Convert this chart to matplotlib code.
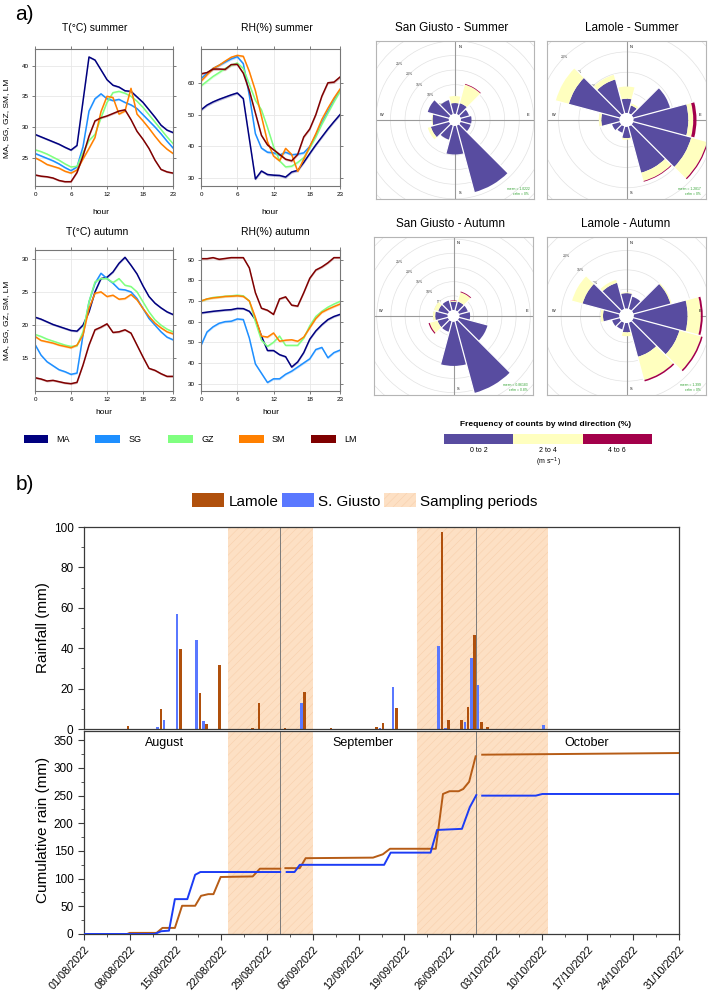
import numpy as np
import pandas as pd
import matplotlib
matplotlib.use('Agg')
import matplotlib.pyplot as plt
from matplotlib.patches import Rectangle, Wedge, Circle, Patch

plt.rcParams['font.family'] = ['Liberation Sans', 'DejaVu Sans']
plt.rcParams['hatch.linewidth'] = 0.4

W, H = 708, 991

# ---------------- a) diurnal cycles ----------------
hours = np.arange(24)
sites = ['MA', 'SG', 'GZ', 'SM', 'LM']
site_colors = ['#00007f', '#1e8fff', '#80ff80', '#ff8000', '#7f0000']

t_summer = {
    'MA': [28.8, 28.4, 28.0, 27.6, 27.2, 26.7, 26.25, 27.0, 34.2, 41.4, 40.9, 39.3, 37.7, 36.8, 36.5, 35.9, 35.8, 34.9, 34.0, 32.8, 31.6, 30.3, 29.5, 29.1],
    'SG': [25.7, 25.3, 24.9, 24.5, 24.0, 23.4, 22.9, 23.5, 26.8, 32.6, 34.6, 35.4, 34.6, 34.3, 34.5, 34.0, 33.6, 33.0, 32.0, 31.0, 30.0, 28.9, 27.7, 26.6],
    'GZ': [26.3, 26.0, 25.6, 25.1, 24.6, 24.0, 23.5, 23.6, 25.8, 27.8, 28.8, 31.5, 34.0, 35.6, 35.8, 35.5, 35.0, 34.2, 33.2, 32.0, 30.8, 29.6, 28.4, 27.3],
    'SM': [25.0, 24.5, 23.9, 23.6, 23.3, 22.8, 22.5, 23.0, 24.8, 26.5, 28.3, 32.5, 35.0, 34.8, 32.1, 32.6, 36.3, 32.1, 31.0, 29.8, 28.5, 27.3, 26.4, 25.7],
    'LM': [22.2, 22.0, 21.9, 21.7, 21.3, 21.1, 21.1, 22.6, 25.3, 28.5, 31.0, 31.5, 31.8, 32.2, 32.6, 32.8, 31.2, 29.3, 28.0, 26.5, 24.6, 23.1, 22.7, 22.5],
}
rh_summer = {
    'MA': [51.5, 53.0, 54.0, 54.8, 55.5, 56.2, 56.8, 55.0, 42.4, 29.8, 32.3, 31.2, 31.0, 30.9, 30.4, 32.0, 32.5, 35.0, 37.8, 40.5, 43.0, 45.5, 47.8, 50.0],
    'SG': [61.3, 63.0, 64.5, 65.5, 66.5, 67.5, 68.2, 66.0, 56.0, 44.0, 39.5, 38.2, 38.0, 37.3, 38.2, 37.4, 37.6, 38.0, 40.0, 43.5, 47.5, 51.0, 54.5, 57.5],
    'GZ': [59.0, 60.5, 62.0, 63.2, 64.5, 65.5, 66.2, 64.5, 59.5, 54.5, 51.5, 46.0, 40.0, 35.5, 33.6, 33.8, 35.0, 36.5, 39.5, 43.0, 47.0, 50.5, 54.0, 57.3],
    'SM': [60.5, 62.5, 64.5, 65.5, 66.8, 68.0, 68.6, 68.3, 63.5, 57.5, 49.5, 41.5, 37.0, 35.5, 39.4, 37.5, 32.2, 36.0, 40.0, 44.0, 48.5, 52.0, 55.2, 58.0],
    'LM': [62.8, 63.2, 64.3, 64.3, 64.2, 65.7, 65.8, 63.0, 57.5, 50.5, 43.5, 40.5, 39.0, 37.5, 36.0, 35.5, 37.5, 43.0, 45.5, 50.0, 55.8, 60.0, 60.2, 61.8],
}
t_autumn = {
    'MA': [21.2, 20.9, 20.5, 20.1, 19.8, 19.5, 19.2, 19.1, 20.0, 22.0, 25.0, 27.0, 27.2, 28.0, 29.3, 30.2, 29.0, 27.7, 25.9, 24.3, 23.3, 22.6, 22.0, 21.6],
    'SG': [17.1, 15.5, 14.5, 13.9, 13.3, 13.0, 12.6, 12.8, 18.5, 23.5, 26.3, 27.8, 27.0, 26.3, 25.4, 25.3, 25.0, 24.0, 22.5, 21.0, 20.0, 19.0, 18.2, 17.8],
    'GZ': [18.6, 18.3, 17.9, 17.6, 17.3, 17.0, 16.8, 16.9, 19.0, 23.5, 26.5, 27.0, 27.0, 26.4, 27.0, 26.0, 25.8, 25.0, 23.5, 22.0, 20.8, 20.0, 19.4, 19.0],
    'SM': [18.3, 17.7, 17.5, 17.3, 17.0, 16.8, 16.6, 17.0, 18.5, 22.5, 24.8, 25.0, 24.3, 24.5, 23.9, 24.0, 24.6, 23.8, 22.5, 21.3, 20.3, 19.6, 19.0, 18.7],
    'LM': [12.1, 11.9, 11.6, 11.7, 11.5, 11.3, 11.2, 11.4, 14.0, 17.0, 19.3, 19.7, 20.2, 18.9, 19.0, 19.3, 18.8, 17.0, 15.2, 13.5, 13.2, 12.7, 12.3, 12.3],
}
rh_autumn = {
    'MA': [64.2, 64.6, 65.0, 65.3, 65.6, 65.8, 66.4, 66.3, 65.0, 61.0, 53.0, 46.0, 46.0, 44.0, 43.0, 38.0, 40.5, 45.0, 51.5, 55.5, 58.5, 61.0, 62.5, 63.5],
    'SG': [48.5, 55.0, 57.5, 59.2, 60.0, 60.2, 61.3, 61.0, 52.0, 39.5, 35.0, 30.5, 32.3, 32.3, 34.5, 36.0, 38.0, 40.0, 42.0, 46.5, 47.5, 42.5, 45.0, 46.2],
    'GZ': [70.0, 71.0, 71.7, 72.0, 72.3, 72.5, 72.8, 72.5, 70.0, 60.0, 51.0, 48.0, 50.0, 53.0, 48.5, 48.5, 48.5, 52.0, 58.0, 62.5, 65.0, 67.0, 68.5, 69.8],
    'SM': [70.0, 71.0, 71.5, 71.8, 72.2, 72.3, 72.5, 72.2, 70.0, 62.0, 53.0, 52.5, 54.5, 50.5, 51.0, 51.2, 50.5, 52.5, 57.0, 61.5, 64.5, 66.0, 67.3, 68.5],
    'LM': [90.5, 90.5, 91.0, 90.2, 90.6, 91.0, 91.0, 91.0, 86.0, 74.0, 66.5, 65.5, 63.5, 71.0, 72.0, 68.0, 67.5, 74.0, 81.0, 85.0, 86.5, 88.5, 91.0, 91.0],
}

# ---------------- wind roses (% of counts per 30 deg sector) ----------------
rose_dirs = np.arange(0, 360, 30)
rose_colors = ['#584ca0', '#ffffbf', '#a3004a']
rose_bins = ['0 to 2', '2 to 4', '4 to 6']

sg_summer_0to2 = [3.7, 3.9, 3.0, 3.65, 3.6, 23.6, 9.8, 5.0, 6.5, 5.6, 7.6, 5.0]
sg_summer_2to4 = [2.4, 6.6, 0, 0, 0, 0, 0, 0, 1.1, 0.3, 0, 0]
sg_summer_4to6 = [0, 0.25, 0, 0, 0, 0, 0, 0, 0, 0, 0, 0]

lm_summer_0to2 = [3.5, 2.0, 9.4, 13.5, 14.8, 11.8, 2.8, 1.6, 2.0, 4.5, 13.0, 8.6]
lm_summer_2to4 = [3.0, 0.5, 0, 1.2, 4.0, 2.1, 0.4, 0, 0, 0.6, 3.3, 1.2]
lm_summer_4to6 = [0, 0, 0, 0.8, 0.3, 0.2, 0, 0, 0, 0, 0, 0]

sg_autumn_0to2 = [2.9, 3.2, 3.2, 3.8, 10.4, 26.1, 15.6, 3.8, 3.8, 4.4, 3.6, 3.6]
sg_autumn_2to4 = [0.3, 3.4, 0, 0, 0, 0, 0, 0, 2.9, 0.8, 1.5, 0]
sg_autumn_4to6 = [0.2, 0.3, 0, 0, 0, 0, 0, 0, 0.4, 0, 0, 0]

lm_autumn_0to2 = [4.0, 3.3, 9.9, 13.9, 12.3, 9.1, 2.4, 1.8, 2.0, 4.2, 9.9, 7.0]
lm_autumn_2to4 = [0.2, 0, 0.3, 3.4, 5.8, 6.2, 1.0, 0, 0, 0.6, 2.8, 0.8]
lm_autumn_4to6 = [0, 0, 0, 0.5, 0.4, 0.4, 0, 0, 0, 0, 0, 0]

# ---------------- b) rainfall ----------------
rain_dates = ['07/08/2022', '12/08/2022', '13/08/2022', '15/08/2022', '18/08/2022', '19/08/2022',
              '21/08/2022', '26/08/2022', '27/08/2022', '31/08/2022', '03/09/2022', '07/09/2022',
              '14/09/2022', '15/09/2022', '17/09/2022', '24/09/2022', '25/09/2022', '27/09/2022',
              '28/09/2022', '29/09/2022', '30/09/2022', '01/10/2022', '10/10/2022']
rain_sg = [0, 1.0, 4.5, 57, 44, 4, 0, 0, 0, 0, 13, 0, 0, 0.5, 21, 41, 0.5, 0, 3.6, 35, 22, 0, 2]
rain_lm = [1.5, 9.7, 0, 39.5, 18, 2.5, 31.5, 0.7, 13, 0.5, 18.3, 0.7, 1.2, 3.2, 10.5, 97.5, 4.6, 4.6, 10.7, 46.5, 3.5, 0.8, 0]

# cumulative rain, days since 01/08/2022 (nan = gap at sampling changes)
nan = np.nan
cum_sg_day = [0, 10.8, 11.8, 13.0, 13.9, 15.8, 17.0, 17.8, 30.0, nan, 31.0, 32.2, 33.0, 45.9, 46.9, 53.0,
              54.0, 57.8, 59.0, 60.0, nan, 60.9, 69.1, 70.1, 91]
cum_sg = [0, 0, 5, 6, 63, 63, 107, 112, 112, nan, 112, 112, 125, 125, 147, 147,
          188, 190, 229, 251, nan, 250, 250, 253, 253]
cum_lm_day = [0, 6.6, 7.0, 11.1, 12.0, 13.9, 15.0, 17.0, 17.9, 19.0, 19.8, 20.9, 25.8, 26.9, 30.0, nan,
              30.8, 33.0, 33.9, 44.2, 45.7, 46.8, 53.8, 54.9, 55.9, 57.3, 58.0, 58.9, 59.9, nan, 60.9, 91]
cum_lm = [0, 0, 2, 2, 11, 11, 51, 51, 69, 72, 72, 103, 104, 118, 118, nan,
          119, 119, 137, 138, 144, 154, 154, 253, 258, 258, 262, 275, 321, nan, 324, 327]

samp_start = ['23/08/2022', '21/09/2022']
samp_end = ['05/09/2022', '11/10/2022']
samp_split = ['31/08/2022', '30/09/2022']
months = ['August', 'September', 'October']
month_pos = [12.3, 42.7, 76.9]

start = pd.Timestamp('2022-08-01')


def to_day(dates):
    return (pd.to_datetime(dates, dayfirst=True) - start).days.values.astype(float)


fig = plt.figure(figsize=(W / 100, H / 100), dpi=100)


def px_ax(l, t, r, b):
    return fig.add_axes([l / W, 1 - b / H, (r - l) / W, (b - t) / H])


def line_panel(box, data, ylim, yticks, ci):
    ax = px_ax(*box)
    for s, c in zip(sites, site_colors):
        y = np.array(data[s])
        ax.fill_between(hours, y - ci, y + ci, color=c, alpha=0.25, lw=0)
        ax.plot(hours, y, color=c, lw=1.1)
    ax.set_xlim(0, 23)
    ax.set_ylim(*ylim)
    ax.set_xticks([0, 6, 12, 18, 23])
    ax.set_yticks(yticks)
    ax.grid(color='#e8e8e8', lw=0.6)
    ax.set_axisbelow(True)
    ax.tick_params(direction='out', length=2.5, width=0.6, labelsize=4.5, pad=2,
                   top=True, right=True, color='#666')
    for sp in ax.spines.values():
        sp.set_color('#777')
        sp.set_linewidth(0.8)
    return ax


line_panel((35, 49, 173, 186), t_summer, (20.4, 42.7), [25, 30, 35, 40], 0.15)
line_panel((201, 49, 340, 186), rh_summer, (27.6, 70.6), [30, 40, 50, 60], 0.4)
line_panel((35, 250, 173, 391), t_autumn, (10.1, 31.3), [15, 20, 25, 30], 0.15)
line_panel((201, 250, 340, 391), rh_autumn, (26.4, 94.7), [30, 40, 50, 60, 70, 80, 90], 0.5)


def draw_rose(box, bins, k, hole_px, max_lab, note):
    ax = px_ax(*box)
    R = (box[2] - box[0]) / 2 / k
    hole = hole_px / k
    ax.set_xlim(-R, R)
    ax.set_ylim(-R, R)
    ax.set_xticks([])
    ax.set_yticks([])
    for sp in ax.spines.values():
        sp.set_color('#b5b5b5')
        sp.set_linewidth(0.8)
    for p in range(5, 60, 5):
        ax.add_patch(Circle((0, 0), hole + p, fill=False, ec='#e2e2e2', lw=0.5, zorder=1))
    ax.axhline(0, color='#9a9a9a', lw=0.8, zorder=1)
    ax.axvline(0, color='#9a9a9a', lw=0.8, zorder=1)
    for p in range(5, max_lab + 1, 5):
        r = hole + p
        ax.text(-r * 0.7071, r * 0.7071, f'{p}%', fontsize=2.6, ha='center', va='center',
                color='#444', zorder=1)
    outer = np.full(12, hole)
    for vals, col in zip(bins, rose_colors):
        for i, d in enumerate(rose_dirs):
            v = vals[i]
            if v <= 0:
                continue
            ax.add_patch(Wedge((0, 0), outer[i] + v, 90 - d - 15, 90 - d + 15, width=v,
                               fc=col, ec='none', zorder=2))
        outer = outer + np.array(vals)
    # white separators between sectors
    for i, d in enumerate(rose_dirs):
        rmax = max(outer[i], outer[(i + 1) % 12])
        a = np.deg2rad(d + 15)
        ax.plot([hole * np.sin(a), rmax * np.sin(a)], [hole * np.cos(a), rmax * np.cos(a)],
                color='white', lw=0.9, zorder=3)
    ax.add_patch(Circle((0, 0), hole, fc='white', ec='none', zorder=4))
    off = 73 / k
    sm = 5 / k
    ax.text(sm, off, 'N', fontsize=2.8, ha='center', va='center')
    ax.text(off, sm, 'E', fontsize=2.8, ha='center', va='center')
    ax.text(sm, -off, 'S', fontsize=2.8, ha='center', va='center')
    ax.text(-off, sm, 'W', fontsize=2.8, ha='center', va='center')
    ax.text(0.97, 0.02, note, transform=ax.transAxes, fontsize=2.4, color='#2ca02c',
            ha='right', va='bottom', linespacing=1.4)
    return ax


draw_rose((375.7, 40.7, 534, 199), [sg_summer_0to2, sg_summer_2to4, sg_summer_4to6], 2.92, 6.0, 25,
          'mean = 1.0222\ncalm = 0%')
draw_rose((547.3, 40.7, 705.7, 199), [lm_summer_0to2, lm_summer_2to4, lm_summer_4to6], 4.07, 6.9, 20,
          'mean = 1.2817\ncalm = 0%')
draw_rose((374.3, 236.7, 532.7, 395), [sg_autumn_0to2, sg_autumn_2to4, sg_autumn_4to6], 2.84, 5.8, 25,
          'mean = 0.86183\ncalm = 0.8%')
draw_rose((547.3, 236.7, 705.7, 395), [lm_autumn_0to2, lm_autumn_2to4, lm_autumn_4to6], 3.88, 7.2, 20,
          'mean = 1.399\ncalm = 0%')

# ---------------- b) rainfall panels ----------------
days = to_day(rain_dates)
ss, se, sp_ = to_day(samp_start), to_day(samp_end), to_day(samp_split)
c_lm_bar, c_sg_bar = '#b0500c', '#5a78ff'
c_lm_line, c_sg_line = '#b65c16', '#1c3cf5'
samp_fc, samp_hc = '#fde0c4', '#f8d0ac'

ax_r = px_ax(84, 527, 679, 729)
ax_c = px_ax(84, 731, 679, 934)
for ax in (ax_r, ax_c):
    for a, b in zip(ss, se):
        ax.axvspan(a, b, facecolor=samp_fc, edgecolor=samp_hc, hatch='////', lw=0, zorder=0)
    for m in sp_:
        ax.axvline(m, color='#7a7a7a', lw=0.7, zorder=1)
    ax.set_xlim(0, 91)
    for s in ax.spines.values():
        s.set_color('#3a3a3a')
        s.set_linewidth(0.9)
    ax.tick_params(which='both', direction='out', labelsize=8.5, color='#3a3a3a')
    ax.tick_params(which='major', length=4)
    ax.tick_params(which='minor', length=2.5)

ax_r.bar(days + 0.25, rain_sg, width=0.4, color=c_sg_bar, zorder=2)
ax_r.bar(days + 0.75, rain_lm, width=0.4, color=c_lm_bar, zorder=2)
ax_r.set_ylim(0, 100)
ax_r.set_yticks(np.arange(0, 101, 20))
ax_r.set_yticks(np.arange(10, 100, 20), minor=True)
ax_r.set_xticks([])

ax_c.plot(cum_lm_day, cum_lm, color=c_lm_line, lw=1.4, zorder=3)
ax_c.plot(cum_sg_day, cum_sg, color=c_sg_line, lw=1.4, zorder=3)
ax_c.set_ylim(0, 366.8)
ax_c.set_yticks(np.arange(0, 351, 50))
ax_c.set_yticks(np.arange(25, 351, 50), minor=True)
tick_days = np.arange(0, 92, 7)
tick_labels = [(start + pd.Timedelta(days=int(d))).strftime('%d/%m/%Y') for d in tick_days]
ax_c.set_xticks(tick_days)
ax_c.set_xticks(tick_days[:-1] + 3.5, minor=True)
ax_c.set_xticklabels(tick_labels, rotation=48, ha='right', rotation_mode='anchor', fontsize=7.8)
for m, x in zip(months, month_pos):
    ax_c.text(x, 0.94, m, transform=ax_c.get_xaxis_transform(), ha='center', va='center', fontsize=9)

# ---------------- overlay texts & legends (pixel coords) ----------------
ov = fig.add_axes([0, 0, 1, 1], zorder=10)
ov.set_xlim(0, W)
ov.set_ylim(H, 0)
ov.axis('off')
ov.patch.set_alpha(0)

ov.text(15, 15, 'a)', fontsize=15, ha='left', va='center')
ov.text(16, 485, 'b)', fontsize=15, ha='left', va='center')

for x, y, t in [(95, 27.7, 'T(°C) summer'), (277, 27.7, 'RH(%) summer'),
                (97, 231.7, 'T(°C) autumn'), (275, 231.7, 'RH(%) autumn')]:
    ov.text(x, y, t, fontsize=7.5, ha='center', va='center')
for x, y in [(101, 212), (270, 212), (104, 413), (271, 413)]:
    ov.text(x, y, 'hour', fontsize=6, ha='center', va='center')
for y in (118, 320):
    ov.text(6.5, y, 'MA, SG, GZ, SM, LM', fontsize=6, rotation=90, ha='center', va='center')

for x, y, t in [(452, 27.7, 'San Giusto - Summer'), (632, 27.7, 'Lamole - Summer'),
                (451, 224, 'San Giusto - Autumn'), (626, 224, 'Lamole - Autumn')]:
    ov.text(x, y, t, fontsize=8.5, ha='center', va='center')

leg_x = [23.6, 95.3, 168, 239, 311]
for x, s, c in zip(leg_x, sites, site_colors):
    ov.add_patch(Rectangle((x, 435), 24.5, 7.7, fc=c, ec='none'))
    ov.text(x + 33, 439, s, fontsize=6.5, ha='left', va='center')

ov.text(546, 424, 'Frequency of counts by wind direction (%)', fontsize=6, fontweight='bold',
        ha='center', va='center')
for i, (c, lab) in enumerate(zip(rose_colors, rose_bins)):
    x0 = 444 + i * 69.3
    ov.add_patch(Rectangle((x0, 433.7), 69.3, 10, fc=c, ec='none'))
    ov.text(x0 + 34.6, 451, lab, fontsize=5, ha='center', va='center')
ov.text(548, 462, '(m s$^{-1}$)', fontsize=5, ha='center', va='center')

fig.text(42.7 / W, 1 - 628 / H, 'Rainfall (mm)', rotation=90, fontsize=11, ha='center', va='center')
fig.text(42.7 / W, 1 - 830 / H, 'Cumulative rain (mm)', rotation=90, fontsize=11, ha='center', va='center')

handles = [Patch(fc=c_lm_bar, ec='none'), Patch(fc=c_sg_bar, ec='none'),
           Patch(fc=samp_fc, ec=samp_hc, hatch='////', lw=0)]
fig.legend(handles, ['Lamole', 'S. Giusto', 'Sampling periods'], loc='center',
           bbox_to_anchor=(365 / W, 1 - 501 / H), ncol=3, frameon=False, fontsize=11,
           handlelength=2.1, handleheight=1.0, handletextpad=0.3, columnspacing=0.2)

fig.savefig('out.png', dpi=100)
